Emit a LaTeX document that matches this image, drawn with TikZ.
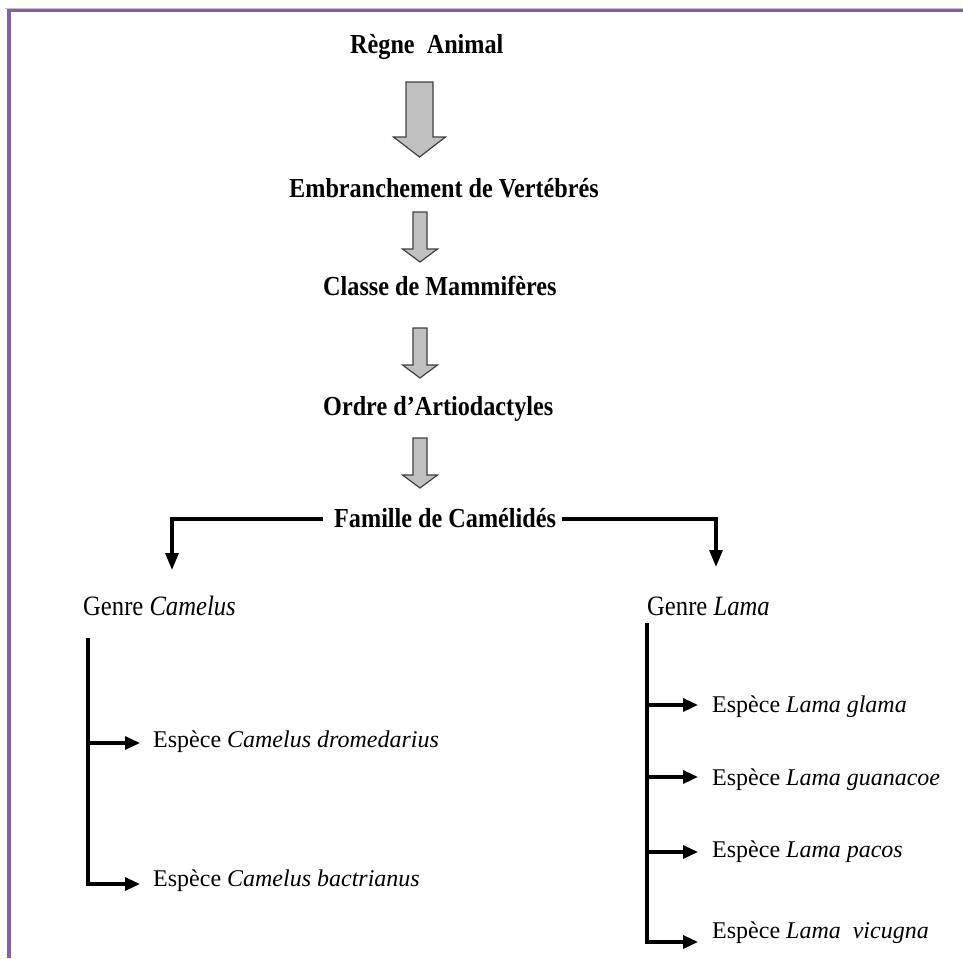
\documentclass[tikz,border=0pt]{standalone}
\usepackage{fontspec}
\setmainfont{Liberation Serif}
\newfontfamily\hdrfont[FakeStretch=0.88]{Liberation Serif}
\usetikzlibrary{arrows.meta}
\definecolor{framepurple}{HTML}{8064A2}
\definecolor{arrowgray}{HTML}{C0C0C0}
\newcommand{\blockarr}[6]{%
  \draw[blockarrow] (#1-#5,#2) -- (#1+#5,#2) -- (#1+#5,#3) -- (#1+#6,#3) -- (#1,#4) -- (#1-#6,#3) -- (#1-#5,#3) -- cycle;}
\begin{document}
\begin{tikzpicture}[x=1pt,y=-1pt,
  title/.style={anchor=base west, inner sep=0pt, font=\hdrfont\fontsize{27.5}{30}\selectfont\bfseries},
  genre/.style={anchor=base west, inner sep=0pt, font=\hdrfont\fontsize{28}{30}\selectfont},
  species/.style={anchor=base west, inner sep=0pt, font=\fontsize{24}{28}\selectfont},
  blockarrow/.style={draw=black!75, line width=1.2pt, fill=arrowgray, line join=miter},
  conn/.style={draw=black, line width=3.2pt, line join=miter, -{Triangle[length=15pt,width=13pt]}},
  connv/.style={draw=black, line width=3.2pt, line join=miter, -{Triangle[length=17pt,width=13pt]}}]
\useasboundingbox (0,0) rectangle (963,958);
% frame
\draw[framepurple!45, line width=1pt] (5,8.5) -- (963,8.5);
\draw[framepurple, line width=3.6pt] (9,958) -- (9,10.7) -- (963,10.7);

% titles
\node[title] (regne) at (350,54) {Règne~~Animal};
\node[title] (embr) at (289,197) {Embranchement de Vertébrés};
\node[title] (classe) at (323,295) {Classe de Mammifères};
\node[title] (ordre) at (323,415) {Ordre d’Artiodactyles};
\node[title] (fam) at (334,527) {Famille de Camélidés};

% block arrows
\blockarr{419.5}{82}{137}{157}{13.5}{26}
\blockarr{420}{212}{249}{262}{7}{17.5}
\blockarr{420}{328}{365}{378}{7}{17.5}
\blockarr{420}{438}{475}{488}{7}{17.5}

% genera
\node[genre] (gcam) at (83,615) {Genre \textit{Camelus}};
\node[genre] (glama) at (647,615) {Genre \textit{Lama}};

\coordinate (fl) at (323,519);
\coordinate (fr) at (562,519);
\coordinate (gcin) at (172,570);
\coordinate (glin) at (716,567);
\draw[connv] (fl) -| (gcin);
\draw[connv] (fr) -| (glin);

% species
\node[species] (sp1) at (153,747) {Espèce \textit{Camelus dromedarius}};
\node[species] (sp2) at (153,886) {Espèce \textit{Camelus bactrianus}};
\node[species] (sp3) at (712,712) {Espèce \textit{Lama glama}};
\node[species] (sp4) at (712,785) {Espèce \textit{Lama guanacoe}};
\node[species] (sp5) at (712,857) {Espèce \textit{Lama pacos}};
\node[species] (sp6) at (712,938) {Espèce \textit{Lama~~vicugna}};

% Camelus tree
\coordinate (ct) at (88,638);
\coordinate (cb1) at (88,743);
\coordinate (ce1) at (140,743);
\coordinate (ce2) at (140,884);
\draw[conn] (ct) |- (ce2);
\draw[conn] (cb1) -- (ce1);

% Lama tree
\coordinate (lt) at (647,623);
\coordinate (lb1) at (647,705);
\coordinate (lb2) at (647,777);
\coordinate (lb3) at (647,852);
\coordinate (le1) at (698,705);
\coordinate (le2) at (698,777);
\coordinate (le3) at (698,852);
\coordinate (le4) at (698,942);
\draw[conn] (lt) |- (le4);
\draw[conn] (lb1) -- (le1);
\draw[conn] (lb2) -- (le2);
\draw[conn] (lb3) -- (le3);
\end{tikzpicture}
\end{document}
